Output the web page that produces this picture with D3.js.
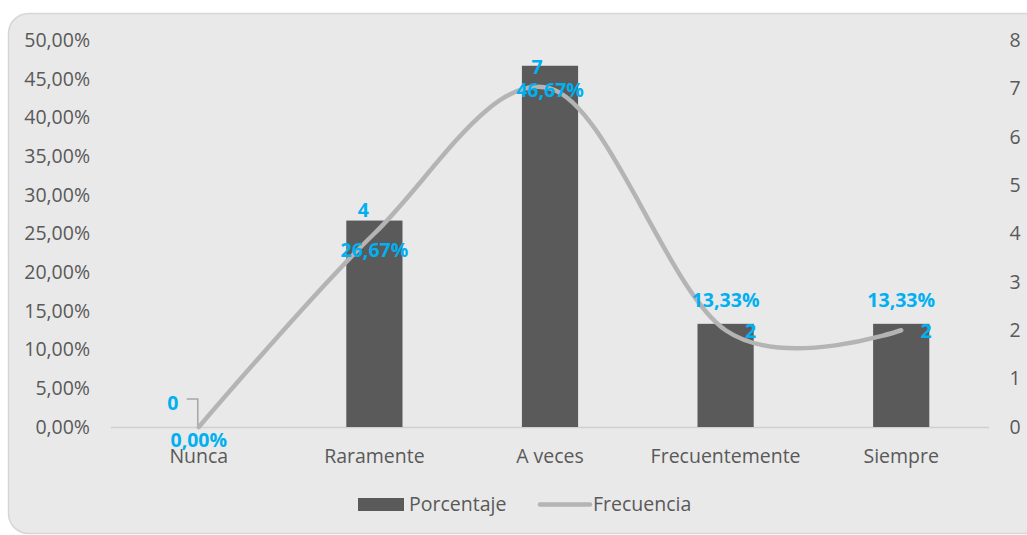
<!DOCTYPE html>
<html>
<head>
<meta charset="utf-8">
<script src="https://cdn.jsdelivr.net/npm/d3@7"></script>
<style>
  body { margin: 0; background: #fff; }
  svg text { font-family: "Open Sans", "Noto Sans", sans-serif; }
  .tick-label { fill: #595959; font-size: 19.5px; }
  .data-label { fill: #00b0f0; font-size: 19.5px; font-weight: bold; }
</style>
</head>
<body>
<div id="chart"></div>
<script>
const categories = ['Nunca', 'Raramente', 'A veces', 'Frecuentemente', 'Siempre'];
const porcentaje = [0, 26.67, 46.67, 13.33, 13.33];
const frecuencia = [0, 4, 7, 2, 2];
const leftTicks = [0, 5, 10, 15, 20, 25, 30, 35, 40, 45, 50];
const rightTicks = [0, 1, 2, 3, 4, 5, 6, 7, 8];

const width = 1027;
const height = 535;
const plot = { left: 111, right: 989, top: 40, bottom: 427 };

const svg = d3.select('#chart').append('svg')
  .attr('width', width)
  .attr('height', height);

// panel background
svg.append('rect')
  .attr('x', 8.5).attr('y', 13.5)
  .attr('width', 1040).attr('height', 520)
  .attr('rx', 20).attr('ry', 20)
  .attr('fill', '#e9e9e9')
  .attr('stroke', '#d6d6d6')
  .attr('stroke-width', 1.5);

const x = d3.scaleBand()
  .domain(categories)
  .range([plot.left, plot.right]);

const yLeft = d3.scaleLinear().domain([0, 50]).range([plot.bottom, plot.top]);
const yRight = d3.scaleLinear().domain([0, 8]).range([plot.bottom, plot.top]);

const fmtPct = v => d3.format('.2f')(v).replace('.', ',') + '%';
const cx = c => x(c) + x.bandwidth() / 2;

// left axis labels
svg.append('g').selectAll('text')
  .data(leftTicks).join('text')
  .attr('class', 'tick-label')
  .attr('x', 90)
  .attr('y', d => yLeft(d))
  .attr('dy', '0.35em')
  .attr('text-anchor', 'end')
  .text(d => fmtPct(d));

// right axis labels
svg.append('g').selectAll('text')
  .data(rightTicks).join('text')
  .attr('class', 'tick-label')
  .attr('x', 1015)
  .attr('y', d => yRight(d))
  .attr('dy', '0.35em')
  .attr('text-anchor', 'middle')
  .text(d => d);

// baseline
svg.append('line')
  .attr('x1', plot.left).attr('x2', plot.right)
  .attr('y1', plot.bottom + 0.5).attr('y2', plot.bottom + 0.5)
  .attr('stroke', '#d0d0d0')
  .attr('stroke-width', 1.5);

// category labels
svg.append('g').selectAll('text')
  .data(categories).join('text')
  .attr('class', 'tick-label')
  .attr('x', d => cx(d))
  .attr('y', 456)
  .attr('dy', '0.35em')
  .attr('text-anchor', 'middle')
  .text(d => d);

// bars
const barW = x.bandwidth() * 0.32;
svg.append('g').selectAll('rect')
  .data(porcentaje).join('rect')
  .attr('x', (d, i) => cx(categories[i]) - barW / 2)
  .attr('y', d => yLeft(d))
  .attr('width', barW)
  .attr('height', d => yLeft(0) - yLeft(d))
  .attr('fill', '#5a5a5a');

// smooth line
const line = d3.line()
  .x((d, i) => cx(categories[i]))
  .y(d => yRight(d))
  .curve(d3.curveCardinal.tension(0));

svg.append('path')
  .datum(frecuencia)
  .attr('d', line)
  .attr('fill', 'none')
  .attr('stroke', '#b4b4b4')
  .attr('stroke-width', 4.5)
  .attr('stroke-linecap', 'round');

// leader line for the "0" label
const p0 = { x: cx(categories[0]), y: yRight(frecuencia[0]) };
svg.append('path')
  .attr('d', `M${p0.x - 12},${p0.y - 28} H${p0.x - 1} V${p0.y - 2}`)
  .attr('fill', 'none')
  .attr('stroke', '#a6a6a6')
  .attr('stroke-width', 1.5);

// percentage labels (offset from bar top)
const pctOffsets = [[0, 13], [0, 30], [0, 24], [0, -24], [0, -24]];
svg.append('g').selectAll('text')
  .data(porcentaje).join('text')
  .attr('class', 'data-label')
  .attr('x', (d, i) => cx(categories[i]) + pctOffsets[i][0])
  .attr('y', (d, i) => yLeft(d) + pctOffsets[i][1])
  .attr('dy', '0.35em')
  .attr('text-anchor', 'middle')
  .text(d => fmtPct(d));

// frequency labels (offset from line point)
const freqOffsets = [[-26, -24], [-11, -23], [-13, -21], [25, 1], [25, 1]];
svg.append('g').selectAll('text')
  .data(frecuencia).join('text')
  .attr('class', 'data-label')
  .attr('x', (d, i) => cx(categories[i]) + freqOffsets[i][0])
  .attr('y', (d, i) => yRight(d) + freqOffsets[i][1])
  .attr('dy', '0.35em')
  .attr('text-anchor', 'middle')
  .text(d => d);

// legend
const legend = svg.append('g');
legend.append('rect')
  .attr('x', 358).attr('y', 498)
  .attr('width', 46).attr('height', 13)
  .attr('fill', '#5a5a5a');
legend.append('text')
  .attr('class', 'tick-label')
  .attr('x', 409).attr('y', 504)
  .attr('dy', '0.35em')
  .text('Porcentaje');
legend.append('line')
  .attr('x1', 540).attr('x2', 590)
  .attr('y1', 504.5).attr('y2', 504.5)
  .attr('stroke', '#b4b4b4')
  .attr('stroke-width', 4.5)
  .attr('stroke-linecap', 'round');
legend.append('text')
  .attr('class', 'tick-label')
  .attr('x', 593).attr('y', 504)
  .attr('dy', '0.35em')
  .text('Frecuencia');
</script>
</body>
</html>
